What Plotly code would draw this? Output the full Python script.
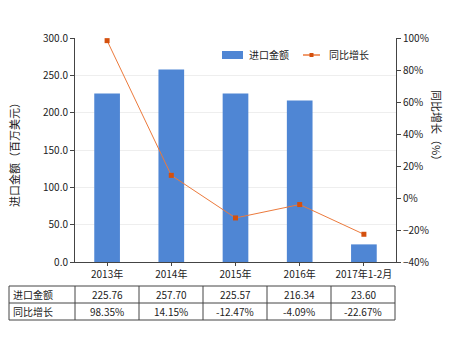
import plotly.graph_objects as go

categories = ["2013年", "2014年", "2015年", "2016年", "2017年1-2月"]
import_value = [225.76, 257.70, 225.57, 216.34, 23.60]
growth_pct = [98.35, 14.15, -12.47, -4.09, -22.67]
value_labels = ["225.76", "257.70", "225.57", "216.34", "23.60"]
growth_labels = ["98.35%", "14.15%", "-12.47%", "-4.09%", "-22.67%"]
row_names = ["进口金额", "同比增长"]

W, H = 454, 340
L, R, T, B = 75, 396, 38, 262
FONT = "Noto Sans CJK SC, Microsoft YaHei, sans-serif"
BAR_COLOR = "#4F86D4"
LINE_COLOR = "#EC7A3C"
MARKER_COLOR = "#D4500E"
TEXT_COLOR = "#222222"


def px(x):
    return (x - L) / (R - L)


def py(y):
    return (B - y) / (B - T)


fig = go.Figure()
fig.add_trace(go.Bar(
    x=categories, y=import_value, name="进口金额",
    marker=dict(color=BAR_COLOR, line=dict(width=0)),
    width=0.4, showlegend=False,
))
fig.add_trace(go.Scatter(
    x=categories, y=growth_pct, name="同比增长", yaxis="y2",
    mode="lines+markers",
    line=dict(color=LINE_COLOR, width=1),
    marker=dict(symbol="square", size=5, color=MARKER_COLOR),
    showlegend=False,
))

shapes = []
annotations = []
line_col = "#444444"

# data table below the plot
col_x = [9, 75, 139, 203, 267, 331, 395]
row_y = [286, 303, 320]
for x in col_x:
    shapes.append(dict(type="line", xref="paper", yref="paper",
                       x0=px(x), x1=px(x), y0=py(row_y[0]), y1=py(row_y[-1]),
                       line=dict(color=line_col, width=1)))
for y in row_y:
    shapes.append(dict(type="line", xref="paper", yref="paper",
                       x0=px(col_x[0]), x1=px(col_x[-1]), y0=py(y), y1=py(y),
                       line=dict(color=line_col, width=1)))

rows = [value_labels, growth_labels]
for r, (name, vals) in enumerate(zip(row_names, rows)):
    yc = (row_y[r] + row_y[r + 1]) / 2
    annotations.append(dict(x=px(col_x[0] + 2), y=py(yc), xref="paper", yref="paper",
                            text=name, showarrow=False, xanchor="left", yanchor="middle",
                            font=dict(size=10, color=TEXT_COLOR, family=FONT)))
    for c, v in enumerate(vals):
        xc = (col_x[c + 1] + col_x[c + 2]) / 2
        annotations.append(dict(x=px(xc), y=py(yc), xref="paper", yref="paper",
                                text=v, showarrow=False, xanchor="center", yanchor="middle",
                                font=dict(size=10, color=TEXT_COLOR, family=FONT)))

# legend
shapes.append(dict(type="rect", xref="paper", yref="paper",
                   x0=px(222), x1=px(243), y0=py(59), y1=py(51),
                   fillcolor=BAR_COLOR, line=dict(width=0)))
annotations.append(dict(x=px(247), y=py(55), xref="paper", yref="paper",
                        text="进口金额", showarrow=False, xanchor="left", yanchor="middle",
                        font=dict(size=10, color=TEXT_COLOR, family=FONT)))
shapes.append(dict(type="line", xref="paper", yref="paper",
                   x0=px(303), x1=px(320), y0=py(55), y1=py(55),
                   line=dict(color=LINE_COLOR, width=1.5)))
shapes.append(dict(type="rect", xref="paper", yref="paper",
                   x0=px(309.5), x1=px(313.5), y0=py(57), y1=py(53),
                   fillcolor=MARKER_COLOR, line=dict(width=0)))
annotations.append(dict(x=px(327), y=py(55), xref="paper", yref="paper",
                        text="同比增长", showarrow=False, xanchor="left", yanchor="middle",
                        font=dict(size=10, color=TEXT_COLOR, family=FONT)))

# axis titles
annotations.append(dict(x=px(14), y=py(152), xref="paper", yref="paper",
                        text="进口金额（百万美元）", showarrow=False, textangle=-90,
                        xanchor="center", yanchor="middle",
                        font=dict(size=11, color=TEXT_COLOR, family=FONT)))
annotations.append(dict(x=px(437), y=py(128), xref="paper", yref="paper",
                        text="同比增长（%）", showarrow=False, textangle=90,
                        xanchor="center", yanchor="middle",
                        font=dict(size=11, color=TEXT_COLOR, family=FONT)))

fig.update_layout(
    width=W, height=H,
    margin=dict(l=L, r=W - R, t=T, b=H - B, pad=0),
    paper_bgcolor="white", plot_bgcolor="white",
    showlegend=False,
    bargap=0.6,
    xaxis=dict(showgrid=False, showline=True, linecolor=line_col, linewidth=1,
               ticks="outside", ticklen=3, tickcolor=line_col,
               tickfont=dict(size=10, color=TEXT_COLOR, family=FONT), fixedrange=True),
    yaxis=dict(range=[0, 300], dtick=50, tickformat=".1f",
               showgrid=True, gridcolor="#EEEEEE", gridwidth=1,
               showline=True, linecolor=line_col, linewidth=1,
               ticks="outside", ticklen=4, tickcolor=line_col,
               tickfont=dict(size=10, color=TEXT_COLOR, family=FONT), zeroline=False),
    yaxis2=dict(range=[-40, 100], dtick=20, ticksuffix="%", overlaying="y", side="right",
                showgrid=False, showline=True, linecolor=line_col, linewidth=1,
                ticks="outside", ticklen=4, tickcolor=line_col,
                tickfont=dict(size=10, color=TEXT_COLOR, family=FONT), zeroline=False),
    shapes=shapes,
    annotations=annotations,
)

fig.write_html("out.html")
